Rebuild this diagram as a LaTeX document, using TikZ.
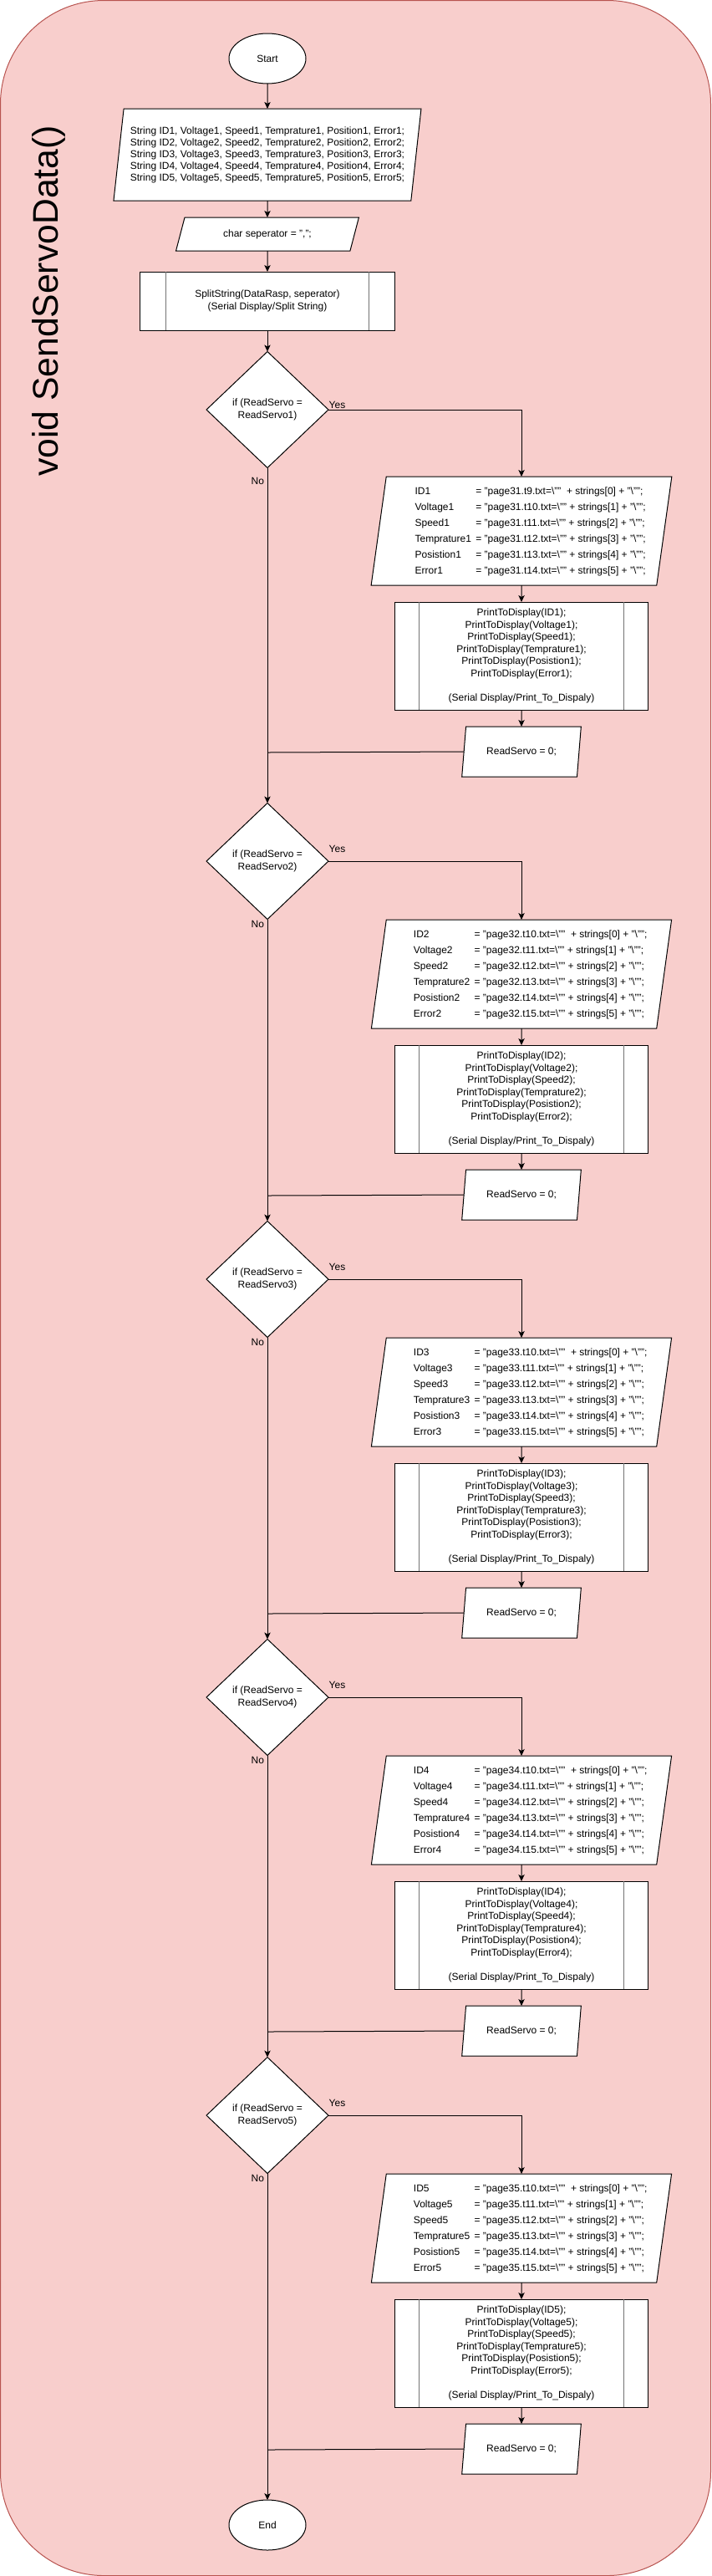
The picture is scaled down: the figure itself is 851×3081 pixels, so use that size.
\documentclass[tikz,border=0pt]{standalone}
\usepackage{fontspec}
\setmainfont{Liberation Sans}
\usepackage{tikz}
\usetikzlibrary{shapes,arrows.meta,positioning}
\definecolor{laneFill}{HTML}{F8CECC}
\definecolor{laneLine}{HTML}{B85450}

\begin{document}
\begin{tikzpicture}[x=0.75pt, y=-0.75pt, line width=0.75pt, font=\fontsize{9}{10.8}\selectfont,
        every node/.style={inner sep=0pt, outer sep=0pt},
        flow/.style={draw, -{Stealth[length=6pt, width=5.5pt, inset=1.5pt]}},
        term/.style={draw, fill=white, ellipse, minimum width=69pt, minimum height=45pt},
        io/.style 2 args={draw, fill=white, trapezium, trapezium stretches=true, trapezium left angle=#1, trapezium right angle=#2},
        proc/.style={draw, fill=white, rectangle, align=center},
        test/.style={draw, fill=white, diamond, align=center, minimum width=109.5pt, minimum height=104.25pt},
        side/.style={draw=black!55, line width=1pt}]
        \draw [laneLine, fill=laneFill, rounded corners=93pt] (0.5,0.5) rectangle (850.5,3080.5);
        \useasboundingbox (0,0) rectangle (851,3081);
        \node [rotate=90, font=\fontsize{32}{38}\selectfont] (Title) at (58,360) {void SendServoData()};
        \node [term] (Start) at (320,70) {Start};
        \node [io={80.2}{99.8}, minimum width=276.75pt, minimum height=82.5pt, align=left, font=\fontsize{9}{10.5}\selectfont, below=22.5pt of Start] (Decl) {String ID1, Voltage1, Speed1, Temprature1, Position1, Error1;\\String ID2, Voltage2, Speed2, Temprature2, Position2, Error2;\\String ID3, Voltage3, Speed3, Temprature3, Position3, Error3;\\String ID4, Voltage4, Speed4, Temprature4, Position4, Error4;\\String ID5, Voltage5, Speed5, Temprature5, Position5, Error5;};
        \node [io={63.4}{116.6}, minimum width=164.25pt, minimum height=30pt, below=15pt of Decl] (Sep) {char seperator = ",";};
        \node [proc, minimum width=228.75pt, minimum height=52.5pt, font=\fontsize{9}{11.25}\selectfont, below=18.75pt of Sep] (Split) {SplitString(DataRasp, seperator)\\(Serial Display/Split String)};
        \draw [side] ([xshift=23.25pt]Split.north west) -- ([xshift=23.25pt]Split.south west) ([xshift=-23.25pt]Split.north east) -- ([xshift=-23.25pt]Split.south east);
        \draw [flow] (Start) -- (Decl);
        \draw [flow] (Decl) -- (Sep);
        \draw [flow] (Sep) -- (Split);
        \foreach \nr/\cy/\by/\tn/\yo in {1/490/500/9/0.75, 2/1030/1030/10/7.5, 3/1530/1530/10/7.5, 4/2030/2030/10/7.5, 5/2530/2530/10/7.5} {
            \pgfmathtruncatemacro\tb{\tn+1}
            \pgfmathtruncatemacro\tc{\tn+2}
            \pgfmathtruncatemacro\td{\tn+3}
            \pgfmathtruncatemacro\te{\tn+4}
            \pgfmathtruncatemacro\tf{\tn+5}
            \node [test, font=\fontsize{9}{11.25}\selectfont] (If\nr) at (320,\cy) {if (ReadServo =\\ReadServo\nr)};
            \node [io={81.7}{98.3}, minimum width=270pt, minimum height=97.5pt] (Set\nr) at (624,\by+135) {\hspace*{16pt}\def\arraystretch{1.32}\begin{tabular}{@{}l@{\hspace{4pt}}l@{}}
                ID\nr & = "page3\nr.t\tn.txt=\textbackslash"" \ + strings[0] + "\textbackslash"";\\
                Voltage\nr & = "page3\nr.t\tb.txt=\textbackslash"" + strings[1] + "\textbackslash"";\\
                Speed\nr & = "page3\nr.t\tc.txt=\textbackslash"" + strings[2] + "\textbackslash"";\\
                Temprature\nr & = "page3\nr.t\td.txt=\textbackslash"" + strings[3] + "\textbackslash"";\\
                Posistion\nr & = "page3\nr.t\te.txt=\textbackslash"" + strings[4] + "\textbackslash"";\\
                Error\nr & = "page3\nr.t\tf.txt=\textbackslash"" + strings[5] + "\textbackslash"";
            \end{tabular}};
            \node [proc, minimum width=227.25pt, minimum height=96.75pt, font=\fontsize{9}{10.9}\selectfont, below=15pt of Set\nr] (Print\nr) {PrintToDisplay(ID\nr);\\PrintToDisplay(Voltage\nr);\\PrintToDisplay(Speed\nr);\\PrintToDisplay(Temprature\nr);\\PrintToDisplay(Posistion\nr);\\PrintToDisplay(Error\nr);\\[10.9pt](Serial Display/Print\_To\_Dispaly)};
            \draw [side] ([xshift=21.75pt]Print\nr.north west) -- ([xshift=21.75pt]Print\nr.south west) ([xshift=-21.75pt]Print\nr.north east) -- ([xshift=-21.75pt]Print\nr.south east);
            \node [io={73.3}{106.7}, minimum width=107.25pt, minimum height=45pt, below=15pt of Print\nr] (Reset\nr) {ReadServo = 0;};
            \coordinate (Join\nr) at (320,\by+400);
            \node [anchor=east] (No\nr) at (316,\by+75) {No};
            \draw [flow] (If\nr.east) -| node [pos=0, anchor=south west, xshift=0.5pt, yshift=\yo pt] (Yes\nr) {Yes} (Set\nr.north);
            \draw [flow] (Set\nr) -- (Print\nr);
            \draw [flow] (Print\nr) -- (Reset\nr);
            \draw (Reset\nr.west) -- (Join\nr);
        }
        \node [term] (End) at (320,3020) {End};
        \draw [flow] (Split) -- (If1);
        \foreach \a/\b in {1/2, 2/3, 3/4, 4/5} {
            \draw [flow] (If\a.south) -- (If\b.north);
        }
        \draw [flow] (If5.south) -- (End.north);
    \end{tikzpicture}
\end{document}
